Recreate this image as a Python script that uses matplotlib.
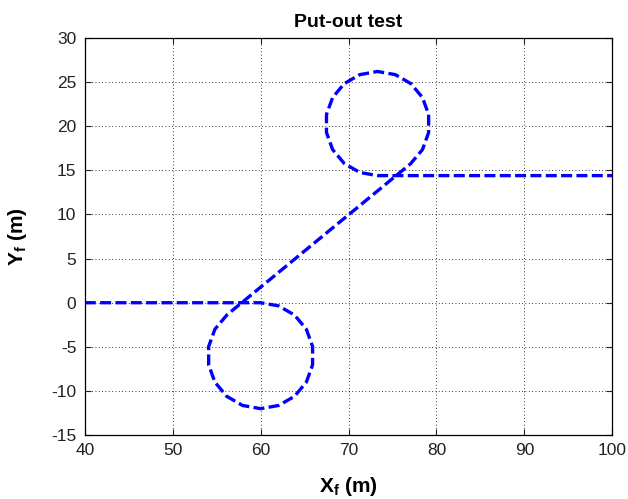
import matplotlib
matplotlib.use("Agg")
import matplotlib.pyplot as plt

plt.rcParams['font.family'] = ['Liberation Sans', 'DejaVu Sans']
plt.rcParams['mathtext.fontset'] = 'custom'
plt.rcParams['mathtext.bf'] = 'Liberation Sans:bold'
plt.rcParams['mathtext.rm'] = 'Liberation Sans'
plt.rcParams['axes.unicode_minus'] = False

# vehicle path: straight run, right-hand loop, diagonal, left-hand loop, straight exit
x_f = [40.0, 60.0,
       62.05, 63.86, 65.20, 65.91, 65.91, 65.20, 63.86, 62.05, 60.00,
       57.95, 56.14, 54.80, 54.09, 54.09, 54.80, 56.19,
       77.05, 78.41, 79.11, 79.11, 78.41, 77.09, 75.32, 73.30,
       71.28, 69.51, 68.19, 67.49, 67.49, 68.19, 69.51, 71.28, 73.30,
       100.0]
y_f = [0.0, 0.0,
       -0.36, -1.40, -3.00, -4.96, -7.04, -9.00, -10.60, -11.64, -12.00,
       -11.64, -10.60, -9.00, -7.04, -4.96, -3.00, -1.36,
       15.74, 17.35, 19.28, 21.32, 23.25, 24.82, 25.84, 26.20,
       25.84, 24.82, 23.25, 21.32, 19.28, 17.35, 15.78, 14.76, 14.40,
       14.40]

x_ticks = [40, 50, 60, 70, 80, 90, 100]
y_ticks = [-15, -10, -5, 0, 5, 10, 15, 20, 25, 30]

fig = plt.figure(figsize=(6.28, 4.99), dpi=100)
ax = fig.add_axes([0.135, 0.128, 0.840, 0.796])

ax.plot(x_f, y_f, color='#0000ff', lw=2.4, linestyle=(0, (3.3, 1.3)),
        solid_capstyle='butt', dash_capstyle='butt')

ax.set_xlim(40, 100)
ax.set_ylim(-15, 30)
ax.set_xticks(x_ticks)
ax.set_yticks(y_ticks)
ax.tick_params(direction='in', top=True, right=True, labelsize=12.5,
               length=4, width=0.8, colors='#222222')
ax.tick_params(axis='x', pad=6)
ax.tick_params(axis='y', pad=6)
ax.grid(True, color='black', linestyle=(0, (1, 3)), linewidth=0.6)
for sp in ax.spines.values():
    sp.set_linewidth(0.9)

ax.set_title('Put-out test', fontsize=14, fontweight='bold', pad=8)
ax.set_xlabel(r'$\mathbf{X_f}$ (m)', fontsize=15, fontweight='bold', labelpad=12)
ax.set_ylabel(r'$\mathbf{Y_f}$ (m)', fontsize=15, fontweight='bold', labelpad=16)

fig.savefig('out.png', dpi=100)
